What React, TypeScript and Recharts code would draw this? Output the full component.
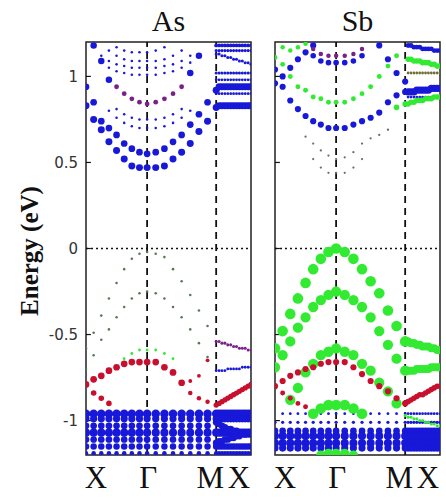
import React from 'react';
import {
    ScatterChart,
    Scatter,
    XAxis,
    YAxis,
    ZAxis,
    ReferenceLine,
    ReferenceArea
} from 'recharts';

// path X -> Γ -> M -> X, distance along the k-path for every sampled k-point
const kPath = [
    0, 0.125, 0.25, 0.375, 0.5, 0.625, 0.75, 0.875, 1.0,
    1.141, 1.283, 1.424, 1.565, 1.706, 1.848, 1.989, 2.13,
    2.178, 2.225, 2.273, 2.32, 2.368, 2.415, 2.463, 2.51, 2.558, 2.605, 2.653, 2.7,
];
const kTicks = [0, 1, 2.13, 2.7];
const kLabels = ['X', 'Γ', 'M', 'X'];
const eTicks = [-1, -0.5, 0, 0.5, 1];

// a band: first k index, projected weight (dot size), energies in eV
type Band = { from: number; w: number; e: number[] };

// ---------- As ----------
const asBlue: Band[] = [
    { from: 0, w: 0.33, e: [0.83, 0.75, 0.69, 0.62, 0.57, 0.52, 0.48, 0.47, 0.47, 0.47, 0.48, 0.52, 0.56, 0.61, 0.68, 0.74] },
    { from: 16, w: 0.33, e: [0.82, 0.83, 0.83, 0.83, 0.83, 0.83, 0.83, 0.83, 0.83, 0.83, 0.83, 0.83, 0.83] },
    { from: 0, w: 0.3, e: [0.94, 0.85, 0.74, 0.70, 0.66, 0.61, 0.58, 0.56, 0.55, 0.56, 0.58, 0.62, 0.66, 0.72, 0.78, 0.85] },
    { from: 16, w: 0.33, e: [0.92, 0.94, 0.94, 0.94, 0.94, 0.94, 0.94, 0.94, 0.94, 0.94, 0.94, 0.94, 0.94] },
    { from: 1, w: 0.28, e: [1.18, 1.09, 0.98] },
    { from: 13, w: 0.28, e: [1.02, 1.12] },
    { from: 3, w: 0.02, e: [0.80, 0.76, 0.73, 0.71, 0.70, 0.70, 0.70, 0.71, 0.73, 0.76, 0.80] },
    { from: 4, w: 0.02, e: [0.81, 0.78, 0.76, 0.75, 0.75, 0.75, 0.76, 0.78, 0.81] },
    { from: 3, w: 0.02, e: [1.05, 1.03, 1.02, 1.01, 1.01, 1.01, 1.01, 1.02, 1.03, 1.05, 1.08] },
    { from: 2, w: 0.02, e: [1.12, 1.09, 1.07, 1.06, 1.05, 1.05, 1.05, 1.05, 1.06, 1.07, 1.09, 1.12] },
    { from: 3, w: 0.02, e: [1.15, 1.12, 1.10, 1.09, 1.09, 1.09, 1.09, 1.10, 1.12, 1.15] },
    { from: 4, w: 0.02, e: [1.17, 1.15, 1.14, 1.14, 1.14, 1.15, 1.17] },
    { from: 16, w: 0.03, e: [0.90, 0.90, 0.90, 0.90, 0.90, 0.90, 0.90, 0.90, 0.90, 0.90, 0.90, 0.90, 0.90] },
    { from: 16, w: 0.03, e: [0.98, 0.98, 0.98, 0.98, 0.98, 0.98, 0.98, 0.98, 0.98, 0.98, 0.98, 0.98, 0.98] },
    { from: 16, w: 0.04, e: [1.02, 1.02, 1.02, 1.02, 1.02, 1.02, 1.02, 1.02, 1.02, 1.02, 1.02, 1.02, 1.02] },
    { from: 16, w: 0.04, e: [1.13, 1.13, 1.12, 1.12, 1.11, 1.11, 1.10, 1.10, 1.09, 1.09, 1.08, 1.08, 1.07] },
    { from: 16, w: 0.04, e: [1.15, 1.15, 1.15, 1.15, 1.15, 1.15, 1.15, 1.15, 1.15, 1.15, 1.15, 1.15, 1.15] },
    { from: 16, w: 0.08, e: [1.18, 1.18, 1.18, 1.18, 1.18, 1.18, 1.18, 1.18, 1.18, 1.18, 1.18, 1.18, 1.18] },
    { from: 16, w: 0.03, e: [-0.71, -0.71, -0.71, -0.71, -0.70, -0.70, -0.70, -0.70, -0.70, -0.69, -0.69, -0.69, -0.69] },
    { from: 0, w: 0.5, e: [-0.96, -0.96, -0.96, -0.96, -0.96, -0.96, -0.96, -0.96, -0.96, -0.96, -0.96, -0.96, -0.96, -0.96, -0.96, -0.96, -0.96, -0.96, -0.96, -0.96, -0.96, -0.96, -0.96, -0.96, -0.96, -0.96, -0.96, -0.96, -0.96] },
    { from: 0, w: 0.35, e: [-0.99, -0.99, -0.99, -0.99, -0.99, -0.99, -0.99, -0.99, -0.99, -0.99, -0.99, -0.99, -0.99, -0.99, -0.99, -0.99, -0.99, -0.99, -0.99, -0.99, -0.99, -0.99, -0.99, -0.99, -0.99, -0.99, -0.99, -0.99, -0.99] },
    { from: 0, w: 0.3, e: [-1.03, -1.03, -1.03, -1.03, -1.03, -1.03, -1.03, -1.03, -1.03, -1.03, -1.03, -1.03, -1.03, -1.03, -1.03, -1.03, -1.01, -1.02, -1.03, -1.04, -1.05, -1.05, -1.06, -1.06, -1.07, -1.07, -1.08, -1.08, -1.08] },
    { from: 0, w: 0.45, e: [-1.07, -1.07, -1.07, -1.07, -1.07, -1.07, -1.07, -1.07, -1.07, -1.07, -1.07, -1.07, -1.07, -1.07, -1.07, -1.07, -1.07, -1.07, -1.07, -1.07, -1.07, -1.07, -1.07, -1.07, -1.07, -1.07, -1.07, -1.07, -1.07] },
    { from: 0, w: 0.3, e: [-1.11, -1.11, -1.11, -1.11, -1.11, -1.11, -1.11, -1.11, -1.11, -1.11, -1.11, -1.11, -1.11, -1.11, -1.11, -1.11, -1.13, -1.12, -1.12, -1.11, -1.11, -1.10, -1.10, -1.09, -1.09, -1.08, -1.08, -1.07, -1.07] },
    { from: 0, w: 0.28, e: [-1.15, -1.15, -1.15, -1.15, -1.15, -1.15, -1.15, -1.15, -1.15, -1.15, -1.15, -1.15, -1.15, -1.15, -1.15, -1.15, -1.15, -1.15, -1.15, -1.15, -1.15, -1.15, -1.15, -1.15, -1.15, -1.15, -1.15, -1.15, -1.15] },
    { from: 0, w: 0.12, e: [-1.19, -1.19, -1.19, -1.19, -1.19, -1.19, -1.19, -1.19, -1.19, -1.19, -1.19, -1.19, -1.19, -1.19, -1.19, -1.19, -1.19, -1.19, -1.19, -1.19, -1.19, -1.19, -1.19, -1.19, -1.19, -1.19, -1.19, -1.19, -1.19] },
];
const asPurple: Band[] = [
    { from: 4, w: 0.14, e: [0.94, 0.90, 0.87, 0.85, 0.84, 0.85, 0.87, 0.90, 0.94] },
    { from: 16, w: 0.04, e: [-0.54, -0.54, -0.55, -0.55, -0.56, -0.56, -0.57, -0.57, -0.58, -0.58, -0.58, -0.59, -0.59] },
];
const asRed: Band[] = [
    { from: 0, w: 0.3, e: [-0.79, -0.76, -0.74, -0.71, -0.69, -0.67, -0.66, -0.66, -0.66, -0.66, -0.69, -0.72, -0.78] },
    { from: 13, w: 0.12, e: [-0.84, -0.87, -0.89] },
    { from: 16, w: 0.18, e: [-0.91, -0.90, -0.89, -0.88, -0.87, -0.86, -0.85, -0.84, -0.83, -0.82, -0.81, -0.80, -0.79] },
    { from: 1, w: 0.2, e: [-0.84, -0.87, -0.90] },
    { from: 13, w: 0.08, e: [-0.77, -0.74, -0.65] },
];
const asGray: Band[] = [
    { from: 0, w: 0.02, e: [-0.58, -0.49, -0.39, -0.29, -0.20, -0.12, -0.06, -0.03, -0.02, -0.03, -0.05, -0.12, -0.19, -0.27, -0.36, -0.45] },
    { from: 0, w: 0.02, e: [-0.70, -0.62, -0.53, -0.47, -0.40, -0.34, -0.29, -0.26, -0.25, -0.26, -0.29, -0.34, -0.40, -0.47, -0.55, -0.63] },
];
const asGreen: Band[] = [
    { from: 5, w: 0.03, e: [-0.64, -0.61, -0.59, -0.59, -0.59, -0.61, -0.64] },
];

// ---------- Sb ----------
const sbBlue: Band[] = [
    { from: 0, w: 0.25, e: [0.96, 0.94, 0.86, 0.81, 0.77, 0.74, 0.72, 0.70, 0.70, 0.70, 0.72, 0.74, 0.76, 0.79, 0.85, 0.89, 0.91] },
    { from: 17, w: 0.35, e: [0.91, 0.91, 0.91, 0.92, 0.92, 0.92, 0.92, 0.92, 0.93, 0.93, 0.93, 0.93] },
    { from: 0, w: 0.25, e: [1.04, 1.0, 1.05, 1.1, 1.14, 1.18] },
    { from: 13, w: 0.25, e: [1.18, 1.1, 1.02, 0.97] },
    { from: 5, w: 0.2, e: [1.12, 1.09, 1.08, 1.08, 1.08, 1.09, 1.12] },
    { from: 17, w: 0.15, e: [1.18, 1.18, 1.17, 1.17, 1.17, 1.16, 1.16, 1.16, 1.16, 1.15, 1.15, 1.15] },
    { from: 17, w: 0.03, e: [0.88, 0.88, 0.88, 0.88, 0.88, 0.88, 0.88, 0.88, 0.88, 0.88, 0.88, 0.88] },
    { from: 1, w: 0.03, e: [-0.96, -0.96, -0.96, -0.96, -0.96, -0.96, -0.96, -0.96, -0.96, -0.96, -0.96, -0.96, -0.96, -0.96, -0.96, -0.96, -0.96, -0.96, -0.96, -0.96, -0.96, -0.96, -0.96, -0.96, -0.96, -0.96, -0.96, -0.96] },
    { from: 0, w: 0.05, e: [-1.01, -1.01, -1.01, -1.01, -1.01, -1.01, -1.01, -1.01, -1.01, -1.01, -1.01, -1.01, -1.01, -1.01, -1.01, -1.01, -1.01, -1.01, -1.01, -1.01, -1.01, -1.01, -1.01, -1.01, -1.01, -1.01, -1.01, -1.01, -1.01] },
    { from: 0, w: 0.3, e: [-1.06, -1.06, -1.06, -1.06, -1.06, -1.06, -1.06, -1.06, -1.06, -1.06, -1.06, -1.06, -1.06, -1.06, -1.06, -1.06, -1.06, -1.06, -1.06, -1.06, -1.06, -1.06, -1.06, -1.06, -1.06, -1.06, -1.06, -1.06, -1.06] },
    { from: 0, w: 0.45, e: [-1.09, -1.09, -1.09, -1.09, -1.09, -1.09, -1.09, -1.09, -1.09, -1.09, -1.09, -1.09, -1.09, -1.09, -1.09, -1.09, -1.09, -1.09, -1.09, -1.09, -1.09, -1.09, -1.09, -1.09, -1.09, -1.09, -1.09, -1.09, -1.09] },
    { from: 0, w: 0.45, e: [-1.13, -1.13, -1.13, -1.13, -1.13, -1.13, -1.13, -1.13, -1.13, -1.13, -1.13, -1.13, -1.13, -1.13, -1.13, -1.13, -1.13, -1.13, -1.13, -1.13, -1.13, -1.13, -1.13, -1.13, -1.13, -1.13, -1.13, -1.13, -1.13] },
    { from: 0, w: 0.35, e: [-1.16, -1.16, -1.16, -1.16, -1.16, -1.16, -1.16, -1.16, -1.16, -1.16, -1.16, -1.16, -1.16, -1.16, -1.16, -1.16, -1.16, -1.16, -1.16, -1.16, -1.16, -1.16, -1.16, -1.16, -1.16, -1.16, -1.16, -1.16, -1.16] },
];
const sbGreen: Band[] = [
    { from: 0, w: 0.15, e: [1.11, 1.07, 1.0, 0.94, 0.92, 0.88, 0.87, 0.85, 0.85, 0.85, 0.87, 0.90, 0.94, 1.0, 1.06, 1.12] },
    { from: 1, w: 0.12, e: [1.17, 1.15, 1.17, 1.19] },
    { from: 17, w: 0.2, e: [1.10, 1.10, 1.09, 1.09, 1.09, 1.08, 1.08, 1.08, 1.07, 1.07, 1.06, 1.06] },
    { from: 15, w: 0.2, e: [0.82, 0.84, 0.84, 0.85, 0.85, 0.86, 0.86, 0.86, 0.87, 0.87, 0.87, 0.88, 0.88, 0.88] },
    { from: 0, w: 0.8, e: [-0.58, -0.48, -0.38, -0.29, -0.20, -0.12, -0.06, -0.02, 0.0, -0.02, -0.06, -0.12, -0.19, -0.26, -0.36, -0.45, -0.54] },
    { from: 17, w: 0.45, e: [-0.54, -0.55, -0.55, -0.56, -0.56, -0.57, -0.57, -0.57, -0.58, -0.58, -0.59, -0.59] },
    { from: 0, w: 0.75, e: [-0.69, -0.62, -0.54, -0.46, -0.40, -0.34, -0.30, -0.27, -0.25, -0.27, -0.30, -0.34, -0.40, -0.48, -0.56, -0.64, -0.71] },
    { from: 17, w: 0.45, e: [-0.71, -0.71, -0.71, -0.70, -0.70, -0.70, -0.70, -0.70, -0.69, -0.69, -0.69, -0.69] },
    { from: 2, w: 0.75, e: [-0.88, -0.81, -0.72, -0.67, -0.62, -0.60, -0.58, -0.60, -0.62, -0.67, -0.71, -0.78, -0.83, -0.90] },
    { from: 5, w: 0.8, e: [-0.96, -0.93, -0.91, -0.91, -0.91, -0.93, -0.96] },
    { from: 16, w: 0.04, e: [-0.97, -0.98, -0.98, -0.99, -0.99, -1.0, -1.0, -1.01, -1.01, -1.02, -1.02, -1.03, -1.03] },
    { from: 6, w: 0.6, e: [-1.2, -1.19, -1.19, -1.19, -1.2] },
];
const sbRed: Band[] = [
    { from: 0, w: 0.25, e: [-0.80, -0.77, -0.74, -0.72, -0.70, -0.69, -0.67, -0.66, -0.66, -0.66, -0.69, -0.73, -0.77, -0.80, -0.83, -0.87, -0.90] },
    { from: 17, w: 0.2, e: [-0.89, -0.88, -0.87, -0.86, -0.85, -0.85, -0.84, -0.83, -0.82, -0.81, -0.80, -0.80] },
    { from: 1, w: 0.15, e: [-0.84, -0.87, -0.90, -0.92] },
];
const sbPurple: Band[] = [
    { from: 5, w: 0.12, e: [1.16, 1.13, 1.12, 1.12, 1.12, 1.13, 1.16] },
];
const sbOlive: Band[] = [
    { from: 17, w: 0.03, e: [1.02, 1.02, 1.02, 1.02, 1.02, 1.02, 1.02, 1.02, 1.02, 1.02, 1.02, 1.02] },
];
const sbGray: Band[] = [
    { from: 4, w: 0.01, e: [0.65, 0.61, 0.57, 0.54, 0.52, 0.53, 0.56, 0.61, 0.64, 0.66, 0.69] },
    { from: 5, w: 0.01, e: [0.52, 0.47, 0.44, 0.44, 0.44, 0.47, 0.52] },
];

const COLORS: Record<string, string> = {
    blue: '#1818d8',
    red: '#c8102e',
    green: '#33ea33',
    purple: '#7a2088',
    olive: '#6f6f3a',
    gray: '#6a6a7a',
    mix: '#557a50',
};

const toPoints = (bands: Band[]) =>
    bands.flatMap(b => b.e.map((e, i) => ({ k: kPath[b.from + i], e, w: b.w })));

const kShift = [10, 1, -6, -12];

const KTick = (props: any) => {
    const { x, y, payload } = props;
    const i = kTicks.indexOf(payload.value);
    return (
        <text x={x + kShift[i]} y={y + 25} textAnchor="middle"
              fontFamily="Liberation Serif" fontSize={31} fill="#111">
            {kLabels[i]}
        </text>
    );
};

interface PanelProps {
    title: string;
    layers: Array<[string, Band[]]>;
    left: number;
    width: number;
    showY: boolean;
}

const Panel: React.FC<PanelProps> = ({ title, layers, left, width, showY }) => {
    const margin = showY
        ? { top: 42, right: 9, bottom: 16, left: 36 }
        : { top: 42, right: 6, bottom: 16, left: 15 };
    const plotLeft = margin.left + (showY ? 50 : 0);
    const plotWidth = width - plotLeft - margin.right;
    return (
        <div style={{ position: 'absolute', left, top: 0, width, height: 501 }}>
            <div style={{
                position: 'absolute', left: plotLeft, width: plotWidth, top: 4,
                textAlign: 'center', fontFamily: 'Liberation Serif', fontSize: 30, color: '#111'
            }}>
                {title}
            </div>
            <ScatterChart width={width} height={501} margin={margin}>
                <XAxis type="number" dataKey="k" domain={[0, 2.7]} ticks={kTicks} interval={0}
                       height={30} axisLine={false} tickLine={false} tick={<KTick />} allowDataOverflow />
                <YAxis type="number" dataKey="e" domain={[-1.2, 1.2]} ticks={eTicks} interval={0}
                       width={showY ? 50 : 0} hide={!showY} axisLine={false} tickLine={false}
                       tick={{ fontFamily: 'DejaVu Sans', fontSize: 15, fill: '#333' }} allowDataOverflow />
                <ZAxis type="number" dataKey="w" domain={[0, 1]} range={[3, 110]} />
                <ReferenceLine y={0} stroke="#111" strokeWidth={1.5} strokeDasharray="2 3" />
                <ReferenceLine x={1} stroke="#111" strokeWidth={1.8} strokeDasharray="7 5" />
                <ReferenceLine x={2.13} stroke="#111" strokeWidth={1.8} strokeDasharray="7 5" />
                {layers.map(([color, bands]) => (
                    <Scatter key={color} data={toPoints(bands)} fill={COLORS[color]}
                             isAnimationActive={false} />
                ))}
                {eTicks.map(t => (
                    <ReferenceLine key={t} segment={[{ x: 0, y: t }, { x: 0.08, y: t }]}
                                   stroke="#111" strokeWidth={1.2} />
                ))}
                <ReferenceArea x1={0} x2={2.7} y1={-1.2} y2={1.2} fill="none" fillOpacity={0}
                               stroke="#222" strokeWidth={1.5} />
            </ScatterChart>
        </div>
    );
};

export default function App() {
    return (
        <div style={{ position: 'absolute', left: 0, top: 0, width: 446, height: 501, background: '#fff' }}>
            <svg width={60} height={501} style={{ position: 'absolute', left: 0, top: 0 }}>
                <text x={29} y={251} transform="rotate(-90 29 251)" textAnchor="middle"
                      dominantBaseline="central" fontFamily="Liberation Serif" fontWeight="bold"
                      fontSize={25} fill="#111">
                    Energy (eV)
                </text>
            </svg>
            <Panel title="As" left={0} width={260} showY
                   layers={[['mix', asGray], ['green', asGreen], ['blue', asBlue], ['purple', asPurple], ['red', asRed]]} />
            <Panel title="Sb" left={260} width={186} showY={false}
                   layers={[['gray', sbGray], ['blue', sbBlue], ['green', sbGreen], ['purple', sbPurple], ['olive', sbOlive], ['red', sbRed]]} />
        </div>
    );
}
